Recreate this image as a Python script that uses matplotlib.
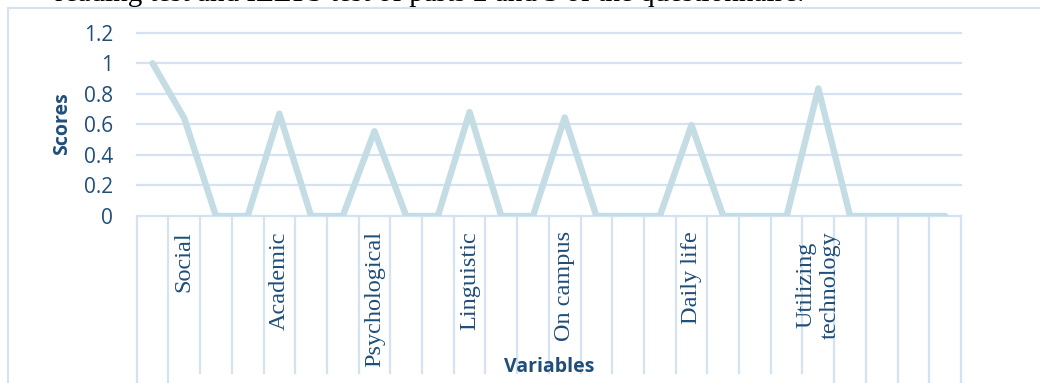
import numpy as np
import matplotlib
matplotlib.use("Agg")
from matplotlib import pyplot as plt
from matplotlib import transforms
from matplotlib.lines import Line2D

# one slot per category, only some carry a name
labels = ["", "Social", "", "", "Academic", "", "", "Psychological", "", "",
          "Linguistic", "", "", "On campus", "", "", "", "Daily life", "", "",
          "", "Utilizing\ntechnology", "", "", "", ""]
scores = [1.0, 0.64, 0, 0, 0.67, 0, 0, 0.555, 0, 0, 0.68, 0, 0, 0.645, 0, 0, 0,
          0.595, 0, 0, 0, 0.835, 0, 0, 0, 0]
yticks = [0, 0.2, 0.4, 0.6, 0.8, 1, 1.2]
ytick_labels = ["0", "0.2", "0.4", "0.6", "0.8", "1", "1.2"]

navy = "#1F4E79"
grid_blue = "#D5E2F2"
line_blue = "#C4DCE3"

W, H = 1040, 383
fig = plt.figure(figsize=(W / 100, H / 100), dpi=100)
ax = fig.add_axes([136.7 / W, 1 - 216 / H, (961 - 136.7) / W, (216 - 32.7) / H])
ax_h = 216 - 32.7

x = np.arange(len(scores))
ax.plot(x, scores, color=line_blue, linewidth=4.6,
        solid_capstyle="round", solid_joinstyle="round", zorder=3)

ax.set_xlim(-0.5, len(scores) - 0.5)
ax.set_ylim(0, 1.2)

# horizontal gridlines, x axis drawn as the 0 gridline
for y in yticks:
    ax.axhline(y, color=grid_blue, linewidth=1.6, zorder=1, clip_on=False)

# category separators hanging below the axis
trans = transforms.blended_transform_factory(ax.transData, ax.transAxes)
edges = np.arange(len(scores) + 1) - 0.5
long_edges = [0, 1] + list(range(22, len(edges)))
for k, e in enumerate(edges):
    bottom = -167 / ax_h if k in long_edges else -157 / ax_h
    ax.add_line(Line2D([e, e], [0, bottom], transform=trans, color=grid_blue,
                       linewidth=1.6, clip_on=False))

for s in ax.spines.values():
    s.set_visible(False)

ax.set_yticks(yticks)
ax.set_yticklabels(ytick_labels, fontname="Open Sans", fontsize=15, color=navy)
ax.tick_params(axis="y", length=0, pad=17)

# category names, written upward under each slot
ax.set_xticks([])
for i, lab in enumerate(labels):
    if lab:
        ax.text(i, -15 / ax_h, lab, transform=trans, rotation=90,
                ha="center", va="top", multialignment="center", linespacing=1.2,
                fontname="Liberation Serif", fontsize=17.5, color=navy)

fig.text(62 / W, 1 - 124 / H, "Scores", rotation=90, ha="center", va="center",
         fontname="Open Sans", fontweight="bold", fontsize=14, color=navy)
fig.text(549 / W, 1 - 367 / H, "Variables", ha="center", va="center",
         fontname="Open Sans", fontweight="bold", fontsize=14, color=navy)

# chart frame
fig.add_artist(Line2D([8 / W, 8 / W], [0, 1 - 8 / H], transform=fig.transFigure,
                      color=grid_blue, linewidth=1.5))
fig.add_artist(Line2D([8 / W, 1], [1 - 8 / H, 1 - 8 / H], transform=fig.transFigure,
                      color=grid_blue, linewidth=1.5))

# running text of the page above the chart, mostly cut off by the top edge
fig.text(55 / W, 1 - 7 / H,
         "reading test and IELTS test of parts 2 and 3 of the questionnaire.",
         ha="left", va="bottom", fontname="Liberation Serif", fontsize=21,
         color="black")

fig.savefig("out.png", dpi=100)
